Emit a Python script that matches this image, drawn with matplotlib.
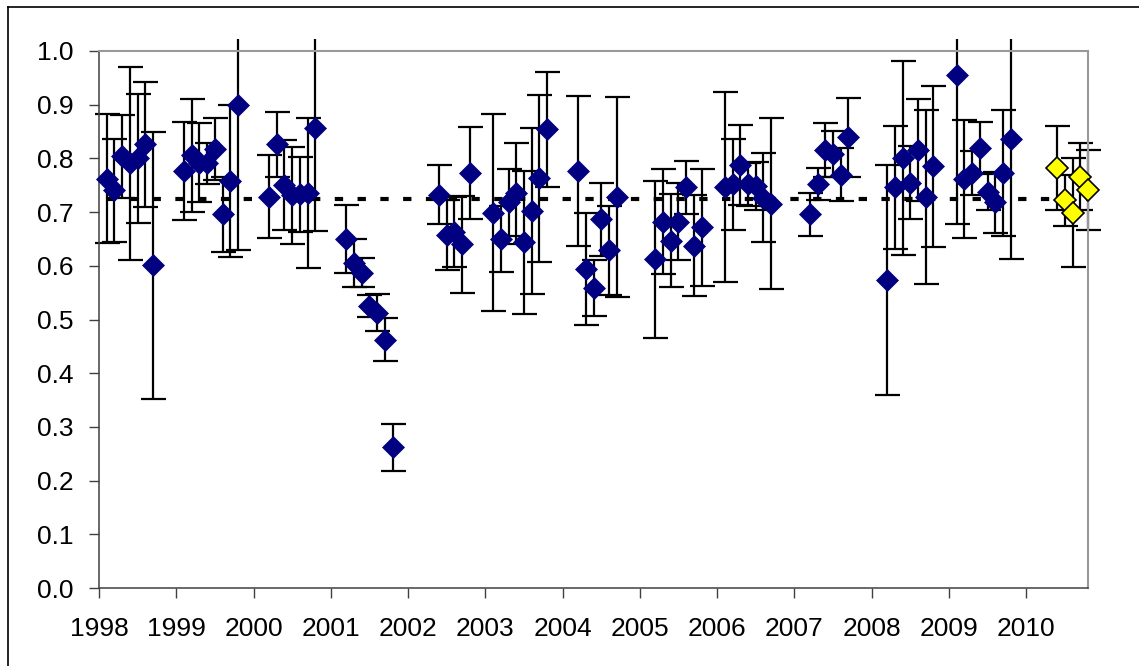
import matplotlib
matplotlib.use("Agg")
import matplotlib.pyplot as plt
from matplotlib.patches import Rectangle
from matplotlib.lines import Line2D

plt.rcParams['font.family'] = ['Liberation Sans', 'DejaVu Sans']
plt.rcParams['lines.scale_dashes'] = False

# Monthly-ish ratio estimates with one-sigma uncertainties, 1998-2009
dates = [
    1998.1, 1998.2, 1998.3, 1998.4, 1998.5, 1998.6, 1998.7,
    1999.1, 1999.2, 1999.3, 1999.4, 1999.5, 1999.6, 1999.7, 1999.8,
    2000.2, 2000.3, 2000.4, 2000.5, 2000.6, 2000.7, 2000.8,
    2001.2, 2001.3, 2001.4, 2001.5, 2001.6, 2001.7, 2001.8,
    2002.4, 2002.5, 2002.6, 2002.7, 2002.8,
    2003.1, 2003.2, 2003.3, 2003.4, 2003.5, 2003.6, 2003.7, 2003.8,
    2004.2, 2004.3, 2004.4, 2004.5, 2004.6, 2004.7,
    2005.2, 2005.3, 2005.4, 2005.5, 2005.6, 2005.7, 2005.8,
    2006.1, 2006.2, 2006.3, 2006.4, 2006.5, 2006.6, 2006.7,
    2007.2, 2007.3, 2007.4, 2007.5, 2007.6, 2007.7,
    2008.2, 2008.3, 2008.4, 2008.5, 2008.6, 2008.7, 2008.8,
    2009.1, 2009.2, 2009.3, 2009.4, 2009.5, 2009.6, 2009.7, 2009.8,
]
ratio = [
    0.762, 0.741, 0.804, 0.791, 0.800, 0.826, 0.601,
    0.777, 0.806, 0.792, 0.791, 0.817, 0.696, 0.758, 0.899,
    0.729, 0.826, 0.750, 0.731, 0.733, 0.735, 0.857,
    0.650, 0.605, 0.587, 0.525, 0.513, 0.462, 0.262,
    0.732, 0.657, 0.663, 0.640, 0.773,
    0.699, 0.650, 0.718, 0.735, 0.644, 0.702, 0.763, 0.854,
    0.777, 0.594, 0.559, 0.687, 0.629, 0.728,
    0.612, 0.682, 0.647, 0.682, 0.746, 0.637, 0.672,
    0.746, 0.752, 0.788, 0.752, 0.748, 0.727, 0.716,
    0.696, 0.752, 0.816, 0.808, 0.770, 0.839,
    0.574, 0.746, 0.801, 0.755, 0.816, 0.728, 0.785,
    0.955, 0.762, 0.772, 0.819, 0.738, 0.718, 0.773, 0.836,
]
ratio_err = [
    0.120, 0.096, 0.077, 0.180, 0.120, 0.117, 0.249,
    0.091, 0.105, 0.074, 0.038, 0.058, 0.070, 0.142, 0.270,
    0.077, 0.060, 0.084, 0.090, 0.070, 0.140, 0.193,
    0.063, 0.045, 0.027, 0.020, 0.035, 0.040, 0.044,
    0.055, 0.065, 0.066, 0.090, 0.086,
    0.183, 0.061, 0.063, 0.094, 0.133, 0.154, 0.155, 0.107,
    0.140, 0.105, 0.052, 0.068, 0.083, 0.187,
    0.146, 0.098, 0.087, 0.072, 0.050, 0.094, 0.109,
    0.177, 0.085, 0.075, 0.040, 0.045, 0.083, 0.160,
    0.040, 0.030, 0.050, 0.043, 0.050, 0.074,
    0.214, 0.115, 0.180, 0.068, 0.095, 0.162, 0.150,
    0.277, 0.110, 0.041, 0.048, 0.034, 0.057, 0.117, 0.224,
]

# Latest (2010) estimates
dates_2010 = [2010.4, 2010.5, 2010.6, 2010.7, 2010.8]
ratio_2010 = [0.782, 0.722, 0.699, 0.766, 0.741]
err_2010 = [0.078, 0.048, 0.101, 0.062, 0.074]

# Long-term mean ratio
mean_ratio = 0.724

year_ticks = list(range(1998, 2011))
y_ticks = [0.0, 0.1, 0.2, 0.3, 0.4, 0.5, 0.6, 0.7, 0.8, 0.9, 1.0]

W, H, DPI = 1139, 666, 100
fig = plt.figure(figsize=(W / DPI, H / DPI), dpi=DPI)
ax = fig.add_axes([99 / W, 1 - 588 / H, (1088 - 99) / W, (588 - 51) / H])

# Error bars may run a little past the top of the plot frame
clip_rect = Rectangle((1990, -0.5), 30, 1.5223, transform=ax.transData)

def draw_err(x, y, e):
    cont = ax.errorbar(x, y, yerr=e, fmt='none', ecolor='black',
                       elinewidth=1.6, capsize=9.0, capthick=1.6, zorder=2)
    for art in list(cont.lines[1]) + list(cont.lines[2]):
        art.set_clip_path(clip_rect)

draw_err(dates, ratio, ratio_err)
draw_err(dates_2010, ratio_2010, err_2010)

# Mean level
ax.plot([dates[0], dates_2010[-1]], [mean_ratio, mean_ratio], color='black',
        lw=3.0, dashes=(6.0, 10.4), dash_capstyle='butt', zorder=3,
        clip_on=False)

ax.plot(dates, ratio, linestyle='none', marker='D', markersize=11.0,
        markerfacecolor='#000080', markeredgecolor='#000080',
        markeredgewidth=0.5, zorder=4, clip_on=False)
ax.plot(dates_2010, ratio_2010, linestyle='none', marker='D', markersize=11.0,
        markerfacecolor='#FFFF00', markeredgecolor='black',
        markeredgewidth=1.2, zorder=5, clip_on=False)

ax.set_xlim(1998, 2010.8)
ax.set_ylim(0.0, 1.0)
ax.set_xticks(year_ticks)
ax.set_xticklabels([str(y) for y in year_ticks])
ax.set_yticks(y_ticks)
ax.set_yticklabels([f"{v:.1f}" for v in y_ticks])

ax.tick_params(axis='y', direction='out', length=7.0, width=1.0,
               color='#404040', pad=11.5, labelsize=19)
ax.tick_params(axis='x', direction='out', length=7.0, width=1.0,
               color='#404040', pad=14, labelsize=19)

for side in ('left', 'bottom'):
    ax.spines[side].set_color('#404040')
    ax.spines[side].set_linewidth(1.1)
for side in ('top', 'right'):
    ax.spines[side].set_color('#999999')
    ax.spines[side].set_linewidth(1.5)

# Chart-area border along the top and left
fig.add_artist(Line2D([8 / W, 8 / W], [0, 1 - 7 / H], transform=fig.transFigure,
                      color='black', lw=1.2))
fig.add_artist(Line2D([8 / W, 1], [1 - 7 / H, 1 - 7 / H], transform=fig.transFigure,
                      color='black', lw=1.2))

fig.savefig('out.png', dpi=DPI, facecolor='white')
